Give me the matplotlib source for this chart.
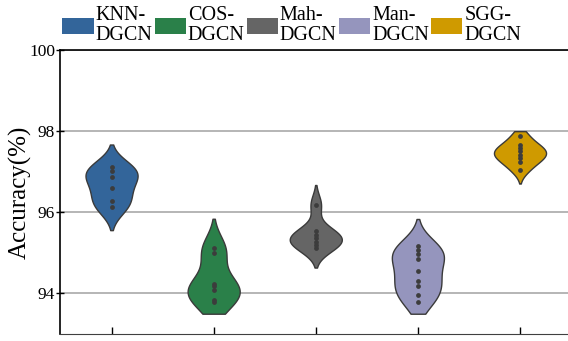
import numpy as np
import matplotlib
matplotlib.use('Agg')
import matplotlib.pyplot as plt
from matplotlib.patches import Patch

plt.rcParams['font.family'] = ['Liberation Serif', 'DejaVu Serif']

# accuracy of each run (%)
methods = ['KNN-\nDGCN', 'COS-\nDGCN', 'Mah-\nDGCN', 'Man-\nDGCN', 'SGG-\nDGCN']
knn = [97.11, 97.01, 96.88, 96.61, 96.29, 96.12]
cos = [95.12, 95.00, 94.24, 94.18, 94.08, 93.85, 93.78]
mah = [96.19, 95.53, 95.45, 95.37, 95.28, 95.20, 95.12]
man = [95.18, 95.06, 94.96, 94.85, 94.55, 94.30, 94.18, 93.95, 93.78]
sgg = [97.89, 97.66, 97.58, 97.50, 97.42, 97.34, 97.25, 97.05]
colors = ['#33659a', '#2a8049', '#656565', '#9595bd', '#cf9a00']

data = [knn, cos, mah, man, sgg]
lo, hi = 93.5, 98.0   # density support limits
half_width = 0.255


def kde(vals, grid):
    vals = np.asarray(vals)
    bw = vals.std(ddof=1) * len(vals) ** (-1 / 5)
    d = np.exp(-0.5 * ((grid[:, None] - vals[None, :]) / bw) ** 2).sum(axis=1)
    return d, bw


fig = plt.figure(figsize=(5.68, 3.41), dpi=100)
ax = fig.add_axes([0.1056, 0.0205, 0.8944, 0.8329])

for i, vals in enumerate(data):
    _, bw = kde(vals, np.array([0.0]))
    y = np.linspace(max(min(vals) - 2 * bw, lo), min(max(vals) + 2 * bw, hi), 300)
    d, _ = kde(vals, y)
    d = d / d.max() * half_width
    ax.fill_betweenx(y, i - d, i + d, facecolor=colors[i], edgecolor='#3a3a3a',
                     linewidth=1.0, zorder=2)
    ax.scatter(np.full(len(vals), i), vals, s=12, color='#3c3c3c', zorder=3,
               linewidths=0)

ax.set_xlim(-0.505, 4.47)
ax.set_ylim(93.0, 100.0)
ax.set_yticks([94, 96, 98, 100])
ax.set_xticks(range(5))
ax.set_xticklabels([])
ax.yaxis.grid(True, color='#b0b0b0', linewidth=1.3, zorder=0)
ax.set_axisbelow(True)
ax.tick_params(axis='y', labelsize=12.5, direction='inout', length=6, width=1, pad=0.5)
ax.tick_params(axis='x', direction='in', length=5, width=1)
ax.set_ylabel('Accuracy(%)', fontsize=18, labelpad=-2)

for side in ['left', 'top']:
    ax.spines[side].set_color('black')
    ax.spines[side].set_linewidth(1.2)
ax.spines['bottom'].set_color('#404040')
ax.spines['right'].set_visible(False)

handles = [Patch(facecolor=c, edgecolor='none') for c in colors]
leg = fig.legend(handles, methods, ncol=5, loc='upper left', bbox_to_anchor=(0.078, 1.035),
                 frameon=False, fontsize=14.5, handlelength=1.55, handleheight=0.85,
                 handletextpad=0.1, columnspacing=0.1, labelspacing=0.1)
for t in leg.get_texts():
    t.set_linespacing(1.05)

fig.savefig('out.png', dpi=100)
